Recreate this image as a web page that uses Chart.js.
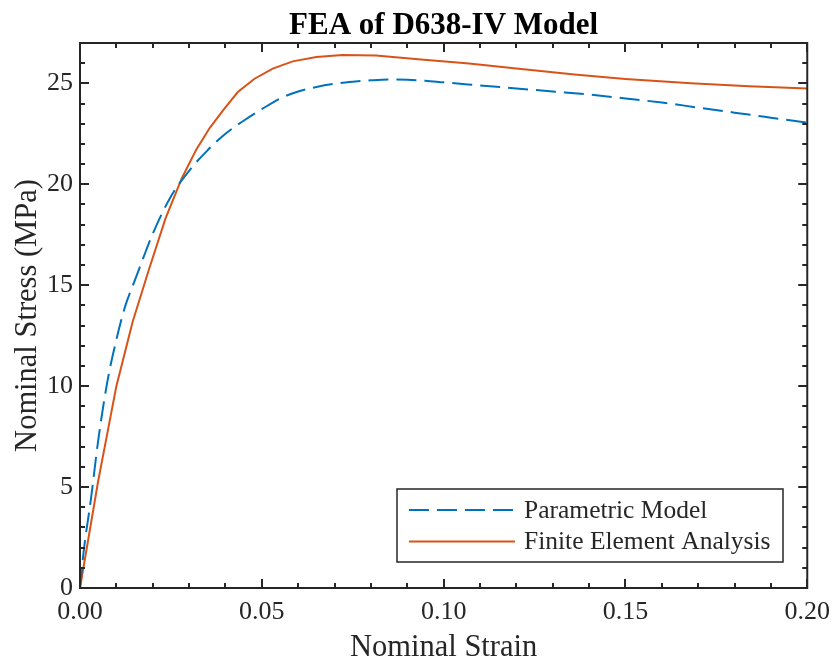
<!DOCTYPE html>
<html>
<head>
<meta charset="utf-8">
<style>
  html, body { margin: 0; padding: 0; background: #fff; }
  #wrap { width: 839px; height: 665px; }
</style>
<script src="https://cdn.jsdelivr.net/npm/chart.js@4"></script>
</head>
<body>
<div id="wrap"><canvas id="grafico"></canvas></div>
<script>
// Datos
const strainParam = [0, 0.001, 0.003, 0.005, 0.0075, 0.01, 0.0125, 0.015, 0.0175, 0.02, 0.025, 0.03, 0.035, 0.04, 0.045, 0.05, 0.055, 0.06, 0.065, 0.07, 0.075, 0.08, 0.085, 0.09, 0.095, 0.1, 0.11, 0.12, 0.13, 0.14, 0.15, 0.16, 0.17, 0.18, 0.19, 0.2];
const stressParam = [0, 1.8, 4.4, 7.3, 10.2, 12.3, 14.0, 15.2, 16.4, 17.55, 19.4, 20.67, 21.67, 22.5, 23.15, 23.72, 24.25, 24.6, 24.82, 24.98, 25.08, 25.15, 25.19, 25.18, 25.13, 25.05, 24.9, 24.75, 24.6, 24.45, 24.25, 24.05, 23.8, 23.55, 23.3, 23.05];

const strainFEA = [0, 0.005, 0.01, 0.0145, 0.019, 0.0235, 0.028, 0.032, 0.0357, 0.0395, 0.0434, 0.048, 0.053, 0.0585, 0.065, 0.0722, 0.0814, 0.093, 0.107, 0.12, 0.136, 0.15, 0.168, 0.184, 0.2];
const stressFEA = [0, 5.3, 10.0, 13.2, 15.8, 18.3, 20.3, 21.73, 22.8, 23.7, 24.57, 25.23, 25.73, 26.09, 26.31, 26.4, 26.38, 26.2, 25.98, 25.74, 25.44, 25.22, 25.0, 24.86, 24.75];

const titulo = 'FEA of D638-IV Model';
const xMin = 0, xMax = 0.2, xStep = 0.05, xMinor = 0.01;
const yMin = 0, yMax = 27, yStep = 5, yMinor = 1;

const colorAzul = '#0072BD';
const colorNaranja = '#D95319';
const colorEje = '#262626';
const fuente = "'Liberation Serif', 'Times New Roman', serif";

const toPoints = (xs, ys) => xs.map((x, i) => ({ x: x, y: ys[i] }));

// Título centrado sobre el área, marco, marcas hacia adentro y leyenda con borde
const marcoPlugin = {
    id: 'marco',
    afterDatasetsDraw(chart) {
        const ctx = chart.ctx;
        const a = chart.chartArea;
        const sx = chart.scales.x, sy = chart.scales.y;
        ctx.save();

        ctx.fillStyle = '#000';
        ctx.font = 'bold 31px ' + fuente;
        ctx.textAlign = 'center';
        ctx.textBaseline = 'alphabetic';
        ctx.fillText(titulo, (a.left + a.right) / 2, 34);
        ctx.textAlign = 'left';

        ctx.strokeStyle = colorEje;
        ctx.lineWidth = 2;
        ctx.strokeRect(a.left, a.top, a.right - a.left, a.bottom - a.top);

        // marcas eje x (abajo y arriba)
        for (let v = xMin; v <= xMax + 1e-9; v += xMinor) {
            const px = Math.round(sx.getPixelForValue(v));
            const mayor = Math.abs(v / xStep - Math.round(v / xStep)) < 1e-6;
            const len = mayor ? 9 : 5;
            ctx.beginPath();
            ctx.moveTo(px, a.bottom); ctx.lineTo(px, a.bottom - len);
            ctx.moveTo(px, a.top); ctx.lineTo(px, a.top + len);
            ctx.stroke();
        }
        // marcas eje y (izquierda y derecha)
        for (let v = yMin; v <= yMax + 1e-9; v += yMinor) {
            const py = Math.round(sy.getPixelForValue(v));
            const mayor = v % yStep === 0;
            const len = mayor ? 9 : 5;
            ctx.beginPath();
            ctx.moveTo(a.left, py); ctx.lineTo(a.left + len, py);
            ctx.moveTo(a.right, py); ctx.lineTo(a.right - len, py);
            ctx.stroke();
        }

        // leyenda
        const bx = 397, by = 489, bw = 386, bh = 73;
        ctx.fillStyle = '#fff';
        ctx.fillRect(bx, by, bw, bh);
        ctx.lineWidth = 1.5;
        ctx.strokeRect(bx, by, bw, bh);
        ctx.font = '25.5px ' + fuente;
        ctx.textBaseline = 'middle';
        chart.data.datasets.forEach((ds, i) => {
            const y = by + 21 + i * 31.5;
            ctx.beginPath();
            ctx.strokeStyle = ds.borderColor;
            ctx.lineWidth = 2;
            ctx.setLineDash(ds.borderDash || []);
            ctx.moveTo(409, y); ctx.lineTo(515, y);
            ctx.stroke();
            ctx.setLineDash([]);
            ctx.fillStyle = colorEje;
            ctx.fillText(ds.label, 524, y + 1);
        });
        ctx.restore();
    }
};

const ctx = document.getElementById('grafico').getContext('2d');
new Chart(ctx, {
    type: 'line',
    data: {
        datasets: [
            {
                label: 'Parametric Model',
                data: toPoints(strainParam, stressParam),
                borderColor: colorAzul,
                borderWidth: 2,
                borderDash: [20, 8],
                pointRadius: 0,
                cubicInterpolationMode: 'monotone',
                fill: false
            },
            {
                label: 'Finite Element Analysis',
                data: toPoints(strainFEA, stressFEA),
                borderColor: colorNaranja,
                borderWidth: 2,
                pointRadius: 0,
                tension: 0,
                fill: false
            }
        ]
    },
    options: {
        responsive: true,
        maintainAspectRatio: false,
        animation: false,
        layout: { padding: { left: 0, right: 30, top: 43, bottom: 0 } },
        plugins: {
            legend: { display: false },
            tooltip: { enabled: false },
            title: { display: false }
        },
        scales: {
            x: {
                type: 'linear',
                min: xMin, max: xMax,
                afterFit: s => { s.height = 77; },
                grid: { display: false, drawTicks: false },
                border: { display: false },
                ticks: {
                    stepSize: xStep,
                    padding: 9,
                    color: colorEje,
                    maxRotation: 0,
                    font: { family: fuente, size: 26 },
                    callback: v => v.toFixed(2)
                },
                title: {
                    display: true,
                    text: 'Nominal Strain',
                    color: colorEje,
                    font: { family: fuente, size: 30.5, lineHeight: 1.1 },
                    padding: { top: 0, bottom: 0 }
                }
            },
            y: {
                min: yMin, max: yMax,
                afterFit: s => { s.width = 80; },
                grid: { display: false, drawTicks: false },
                border: { display: false },
                ticks: {
                    stepSize: yStep,
                    includeBounds: false,
                    padding: 7,
                    color: colorEje,
                    font: { family: fuente, size: 26 }
                },
                title: {
                    display: true,
                    text: 'Nominal Stress (MPa)',
                    color: colorEje,
                    font: { family: fuente, size: 30.5 },
                    padding: { top: 10, bottom: 0 }
                }
            }
        }
    },
    plugins: [marcoPlugin]
});
</script>
</body>
</html>
